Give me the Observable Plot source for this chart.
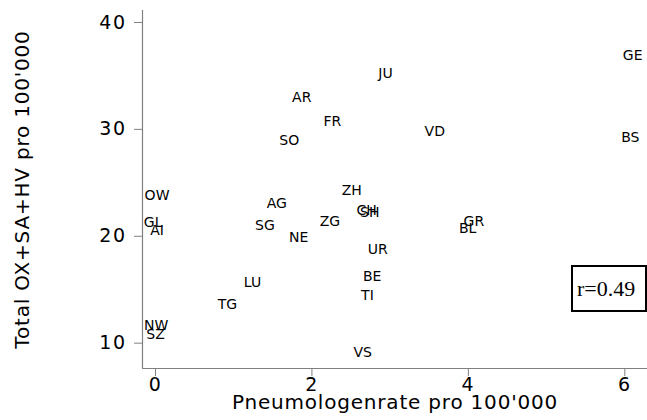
<!DOCTYPE html>
<html>
<head>
<meta charset="utf-8">
<script src="https://cdn.jsdelivr.net/npm/d3@7"></script>
<script src="https://cdn.jsdelivr.net/npm/@observablehq/plot@0.6"></script>
<style>
  html, body { margin: 0; padding: 0; background: #fff; }
  #wrap { position: relative; width: 647px; height: 420px; }
  #rbox {
    position: absolute; left: 571px; top: 265px; width: 76px; height: 47px;
    box-sizing: border-box; border: 2px solid #000; background: #fff;
    font-family: "Liberation Serif", "Times New Roman", serif; font-size: 22px;
    line-height: 43px; padding-left: 4px; color: #000;
  }
  g[aria-label="x-axis tick label"] text, g[aria-label="y-axis tick label"] text { letter-spacing: 1.5px; }
</style>
</head>
<body>
<div id="wrap"></div>
<script>
const codes = ["GE","JU","AR","FR","VD","BS","SO","OW","ZH","AG","ZG","SG","SH","CH","NE","GL","AI","UR","GR","BL","BE","LU","TI","TG","NW","SZ","VS"];
const pneumoRate = [6.10,2.94,1.87,2.26,3.57,6.07,1.71,0.02,2.51,1.55,2.23,1.40,2.74,2.70,1.83,-0.03,0.02,2.84,4.07,3.99,2.77,1.24,2.71,0.92,0.01,0.00,2.65];
const totalRate = [36.9,35.2,33.0,30.7,29.8,29.2,29.0,23.8,24.3,23.1,21.4,21.0,22.25,22.45,19.9,21.3,20.5,18.75,21.4,20.7,16.2,15.7,14.5,13.6,11.65,10.8,9.1];
const xTicks = [0,2,4,6];
const yTicks = [10,20,30,40];
const xLabel = "Pneumologenrate pro 100'000";
const yLabel = "Total OX+SA+HV pro 100'000";
const rText = "r=0.49";

const data = codes.map((c,i) => ({code:c, x:pneumoRate[i], y:totalRate[i]}));
const xDomain = [-0.166, 6.29];
const yDomain = [7.63, 41.12];
const axisColor = "#808080";
const font = "DejaVu Sans, Liberation Sans, Arial, sans-serif";

const chart = Plot.plot({
  width: 647,
  height: 420,
  marginLeft: 142,
  marginRight: 0,
  marginTop: 10,
  marginBottom: 52,
  style: {fontFamily: font, background: "#fff", color: "#000"},
  x: {domain: xDomain},
  y: {domain: yDomain},
  marks: [
    Plot.ruleX([xDomain[0]], {stroke: axisColor, strokeWidth: 1.2}),
    Plot.ruleY([yDomain[0]], {stroke: axisColor, strokeWidth: 1.2}),
    Plot.axisX({ticks: xTicks, tickSize: 8, tickPadding: 1, stroke: axisColor, fill: "#000", fontSize: 19, label: null, tickFormat: d => String(d)}),
    Plot.axisY({ticks: yTicks, tickSize: 8, tickPadding: 8, stroke: axisColor, fill: "#000", fontSize: 19, label: null, tickFormat: d => String(d)}),
    Plot.text([xLabel], {text: d => d, frameAnchor: "bottom", textAnchor: "middle", dy: 40, fontSize: 20, fill: "#000"}),
    Plot.text([yLabel], {text: d => d, frameAnchor: "left", textAnchor: "middle", dx: -120, rotate: -90, fontSize: 20, fill: "#000"}),
    Plot.text(data, {x: "x", y: "y", text: "code", fontSize: 14, fill: "#000"})
  ]
});
chart.querySelectorAll("text").forEach(t => {
  if (t.textContent === xLabel || t.textContent === yLabel) t.style.letterSpacing = "0.8px";
});
document.getElementById("wrap").appendChild(chart);
const box = document.createElement("div");
box.id = "rbox";
box.textContent = rText;
document.getElementById("wrap").appendChild(box);
</script>
</body>
</html>
